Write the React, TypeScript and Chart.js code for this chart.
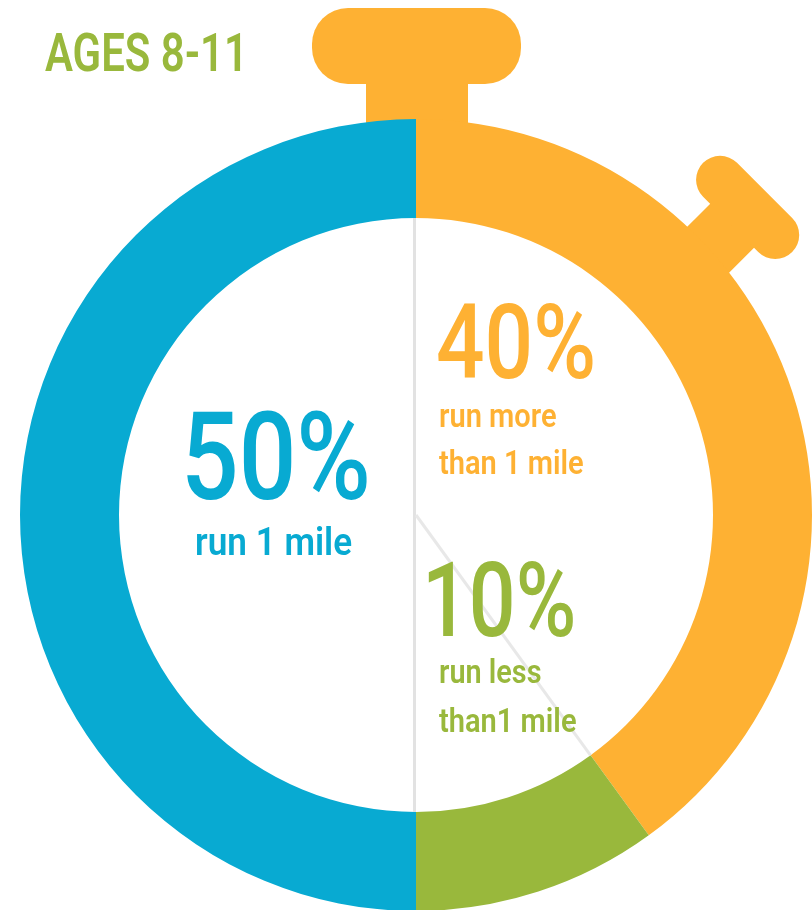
import React, { useEffect, useRef } from "react";
import { Chart, ArcElement, DoughnutController } from "chart.js";

Chart.register(ArcElement, DoughnutController);

const categories = ["run more than 1 mile", "run less than1 mile", "run 1 mile"];
const shares = [40, 10, 50];
const colours = ["#FEB133", "#99B83C", "#08AAD2"];
const heading = "AGES 8-11";

const FONT = '"Roboto", sans-serif';

function text(ctx: CanvasRenderingContext2D, s: string, x: number, y: number, size: number, weight: number, colour: string, stretchX = 1) {
  ctx.save();
  ctx.translate(x, y);
  ctx.scale(stretchX, 1);
  ctx.font = `${weight} ${size}px ${FONT}`;
  ctx.fillStyle = colour;
  ctx.textAlign = "left";
  ctx.textBaseline = "alphabetic";
  ctx.fillText(s, 0, 0);
  ctx.restore();
}

const handlesPlugin = {
  id: "handles",
  beforeDatasetsDraw(chart: any) {
    const ctx: CanvasRenderingContext2D = chart.ctx;
    const arc = chart.getDatasetMeta(0).data[0];
    const cx = arc.x, cy = arc.y;
    ctx.save();
    ctx.fillStyle = colours[0];
    ctx.fillRect(cx - 50, cy - 440, 102, 60);
    ctx.beginPath();
    ctx.roundRect(cx - 104, cy - 507, 209, 76, 36);
    ctx.fill();
    ctx.translate(cx, cy);
    ctx.rotate((45 * Math.PI) / 180);
    ctx.fillRect(-12, -432, 62, 52);
    ctx.beginPath();
    ctx.roundRect(-46, -476, 126, 48, 24);
    ctx.fill();
    ctx.restore();
  },
  afterDatasetsDraw(chart: any) {
    const ctx: CanvasRenderingContext2D = chart.ctx;
    const meta = chart.getDatasetMeta(0);
    const a = meta.data[0];
    const cx = a.x, cy = a.y, r = a.innerRadius;
    ctx.save();
    ctx.strokeStyle = "#E2E2E2";
    ctx.lineWidth = 3;
    ctx.beginPath();
    ctx.moveTo(cx - 1.5, cy - r);
    ctx.lineTo(cx - 1.5, cy + r);
    ctx.stroke();
    ctx.strokeStyle = "#E8E8E8";
    ctx.beginPath();
    ctx.moveTo(cx, cy);
    ctx.lineTo(cx + r * Math.cos(a.endAngle), cy + r * Math.sin(a.endAngle));
    ctx.stroke();
    ctx.restore();

    text(ctx, heading, 45, 71, 53, 600, colours[1], 0.79);
    text(ctx, "40%", 436, 378, 103, 500, colours[0], 0.83);
    text(ctx, "run more", 439, 427, 33, 600, colours[0], 0.88);
    text(ctx, "than 1 mile", 439, 474, 33, 600, colours[0], 0.88);
    text(ctx, "50%", 181, 499, 123, 500, colours[2], 0.825);
    text(ctx, "run 1 mile", 195, 555, 38, 600, colours[2], 0.925);
    text(ctx, "10%", 422, 636, 103, 500, colours[1], 0.8);
    text(ctx, "run less", 439, 683, 33, 600, colours[1], 0.875);
    text(ctx, "than1 mile", 439, 732, 33, 600, colours[1], 0.88);
  },
};

export default function App() {
  const ref = useRef<HTMLCanvasElement>(null);
  useEffect(() => {
    document.body.style.margin = "0";
    const chart = new Chart(ref.current!, {
      type: "doughnut",
      data: {
        labels: categories,
        datasets: [{ data: shares, backgroundColor: colours, borderWidth: 0 }],
      },
      options: {
        responsive: false,
        animation: false,
        cutout: "75%",
        layout: { padding: { top: 119, left: 20, right: 0, bottom: -1 } },
        plugins: { legend: { display: false }, tooltip: { enabled: false } },
      } as any,
      plugins: [handlesPlugin],
    });
    return () => chart.destroy();
  }, []);
  return <canvas ref={ref} width={812} height={910} style={{ display: "block" }} />;
}
